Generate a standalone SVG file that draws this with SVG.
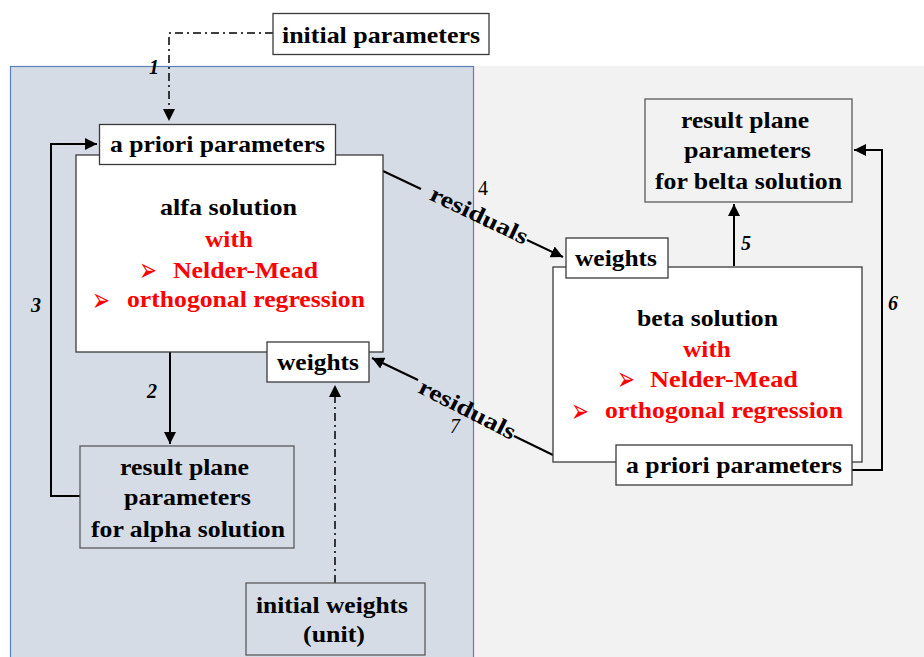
<svg xmlns="http://www.w3.org/2000/svg" width="924" height="657" viewBox="0 0 924 657">
<defs>
<style>
.t{font-family:"Liberation Serif","Times New Roman",serif;font-weight:bold;font-size:23px;fill:#000}
.r{fill:#ff0000}
.b{font-family:"DejaVu Sans","Noto Sans",sans-serif;font-size:33px;fill:#ff0000}
.n{font-family:"Liberation Serif",serif;font-size:20px;font-style:italic;font-weight:bold;fill:#000}
.nr{font-family:"Liberation Serif",serif;font-size:20px;fill:#000}
.box{fill:#fff;stroke:#3a3a3a;stroke-width:1.3}
.gbox{stroke:#595959;stroke-width:1.3}
.ln{fill:none;stroke:#000;stroke-width:2}
.dd{fill:none;stroke:#000;stroke-width:1.5;stroke-dasharray:8 4 2 4}
</style>
<marker id="ah" viewBox="0 0 10 10" refX="10" refY="5" markerWidth="6" markerHeight="6" orient="auto" markerUnits="strokeWidth">
<path d="M0,0 L10,5 L0,10 z" fill="#000"/>
</marker>
<marker id="ahd" viewBox="0 0 10 10" refX="10" refY="5" markerWidth="8" markerHeight="8" orient="auto" markerUnits="strokeWidth">
<path d="M0,0 L10,5 L0,10 z" fill="#000"/>
</marker>
</defs>
<rect x="0" y="0" width="924" height="657" fill="#fff"/>
<g id="panel-right"><rect x="474" y="66" width="451" height="592" fill="#f2f2f2"/></g>
<g id="panel-left"><rect x="10.5" y="66.5" width="463" height="592" fill="#d6dce5" stroke="#5b7fb7" stroke-width="1.2"/></g>

<g id="connectors">
<path class="dd" d="M273,33 H169 V121" marker-end="url(#ahd)"/>
<path class="ln" d="M170,352 V444" marker-end="url(#ah)"/>
<path class="ln" d="M80,496 H51 V144 H97" marker-end="url(#ah)"/>
<path class="dd" d="M335,583 V385" marker-end="url(#ahd)"/>
<path class="ln" d="M383,171 L421,189"/>
<path class="ln" d="M527,240 L563,257" marker-end="url(#ah)"/>
<path class="ln" d="M734,266 V204" marker-end="url(#ah)"/>
<path class="ln" d="M852,470 H882 V150 H854" marker-end="url(#ah)"/>
<path class="ln" d="M553,455 L514,436"/>
<path class="ln" d="M418,380 L372,358" marker-end="url(#ah)"/>
<text class="t" transform="translate(476,222) rotate(25.5)" text-anchor="middle" textLength="106" lengthAdjust="spacingAndGlyphs">residuals</text>
<text class="t" transform="translate(464,416) rotate(27)" text-anchor="middle" textLength="106" lengthAdjust="spacingAndGlyphs">residuals</text>
<text class="n" x="149" y="74">1</text>
<text class="n" x="147" y="398">2</text>
<text class="n" x="31" y="312">3</text>
<text class="nr" x="478" y="195">4</text>
<text class="n" x="741" y="250">5</text>
<text class="n" x="888" y="310">6</text>
<text class="nr" x="450" y="433" font-style="italic">7</text>
</g>

<g id="initial-parameters">
<rect class="box" x="273" y="13.5" width="216" height="41"/>
<text class="t" x="282" y="43" textLength="198" lengthAdjust="spacingAndGlyphs">initial parameters</text>
</g>

<g id="alfa-solution">
<rect class="box" x="76" y="155" width="307" height="197"/>
<text class="t" x="160" y="215" textLength="137" lengthAdjust="spacingAndGlyphs">alfa solution</text>
<text class="t r" x="205" y="247" textLength="48" lengthAdjust="spacingAndGlyphs">with</text>
<text class="b" x="139" y="281" textLength="18" lengthAdjust="spacingAndGlyphs">➢</text>
<text class="t r" x="173" y="278" textLength="145" lengthAdjust="spacingAndGlyphs">Nelder-Mead</text>
<text class="b" x="92" y="311" textLength="18" lengthAdjust="spacingAndGlyphs">➢</text>
<text class="t r" x="127" y="307" textLength="238" lengthAdjust="spacingAndGlyphs">orthogonal regression</text>
</g>

<g id="a-priori-alpha">
<rect class="box" x="99.5" y="124.5" width="236" height="40"/>
<text class="t" x="110" y="152" textLength="215" lengthAdjust="spacingAndGlyphs">a priori parameters</text>
</g>

<g id="weights-alpha">
<rect class="box" x="267" y="342" width="102" height="40"/>
<text class="t" x="277" y="370" textLength="82" lengthAdjust="spacingAndGlyphs">weights</text>
</g>

<g id="result-alpha">
<rect class="gbox" x="80" y="446" width="214" height="102" fill="#d6dce5"/>
<text class="t" x="120" y="475" textLength="129" lengthAdjust="spacingAndGlyphs">result plane</text>
<text class="t" x="124" y="505" textLength="127" lengthAdjust="spacingAndGlyphs">parameters</text>
<text class="t" x="91" y="537" textLength="194" lengthAdjust="spacingAndGlyphs">for alpha solution</text>
</g>

<g id="initial-weights">
<rect class="gbox" x="246" y="583" width="179" height="72" fill="#d6dce5"/>
<text class="t" x="256" y="613" textLength="152" lengthAdjust="spacingAndGlyphs">initial weights</text>
<text class="t" x="303" y="642" textLength="62" lengthAdjust="spacingAndGlyphs">(unit)</text>
</g>

<g id="result-beta">
<rect class="gbox" x="645" y="99" width="207" height="103" fill="#f2f2f2"/>
<text class="t" x="681" y="128" textLength="128" lengthAdjust="spacingAndGlyphs">result plane</text>
<text class="t" x="684" y="158" textLength="127" lengthAdjust="spacingAndGlyphs">parameters</text>
<text class="t" x="655" y="189" textLength="187" lengthAdjust="spacingAndGlyphs">for belta solution</text>
</g>

<g id="beta-solution">
<rect class="box" x="553" y="267" width="309" height="195"/>
<text class="t" x="637" y="326" textLength="141" lengthAdjust="spacingAndGlyphs">beta solution</text>
<text class="t r" x="683" y="357" textLength="48" lengthAdjust="spacingAndGlyphs">with</text>
<text class="b" x="617" y="390" textLength="18" lengthAdjust="spacingAndGlyphs">➢</text>
<text class="t r" x="650" y="387" textLength="148" lengthAdjust="spacingAndGlyphs">Nelder-Mead</text>
<text class="b" x="571" y="422" textLength="18" lengthAdjust="spacingAndGlyphs">➢</text>
<text class="t r" x="605" y="418" textLength="238" lengthAdjust="spacingAndGlyphs">orthogonal regression</text>
</g>

<g id="weights-beta">
<rect class="box" x="566" y="238" width="102" height="40"/>
<text class="t" x="575" y="266" textLength="82" lengthAdjust="spacingAndGlyphs">weights</text>
</g>

<g id="a-priori-beta">
<rect class="box" x="616" y="445" width="236" height="40"/>
<text class="t" x="626" y="473" textLength="216" lengthAdjust="spacingAndGlyphs">a priori parameters</text>
</g>
</svg>
